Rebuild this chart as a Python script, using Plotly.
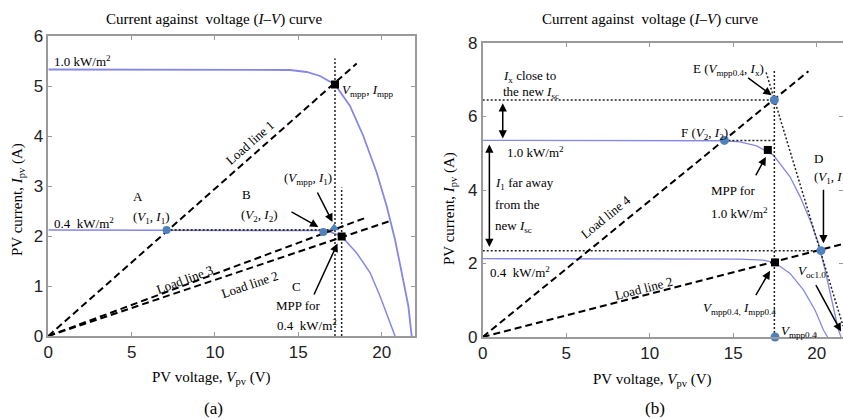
import plotly.graph_objects as go

# ---------------- (a) data ----------------
va_10 = [0, 14.5, 15.5, 16.3, 17.2, 18.1, 18.9, 19.7, 20.3, 20.8, 21.2, 21.6, 21.8]
ia_10 = [5.33, 5.32, 5.28, 5.2, 5.03, 4.6, 4.0, 3.27, 2.6, 1.93, 1.27, 0.6, 0.0]
va_04 = [0, 16.3, 17.0, 17.6, 18.5, 19.3, 19.9, 20.5, 20.8]
ia_04 = [2.12, 2.11, 2.07, 1.99, 1.66, 1.27, 0.8, 0.27, 0.0]
load1_a_v = [0, 18.5]
load1_a_i = [0, 5.45]
load3_a_v = [0, 19.0]
load3_a_i = [0, 2.36]
load2_a_v = [0, 20.5]
load2_a_i = [0, 2.3]
hdot_a_v = [7.1, 17.2]
hdot_a_i = [2.12, 2.12]
vdot1_a_v = [17.2, 17.2]
vdot1_a_i = [0, 5.55]
vdot2_a_v = [17.6, 17.6]
vdot2_a_i = [0, 2.97]
pts_a_v = [7.1, 16.5]          # A, B
pts_a_i = [2.12, 2.08]
tri_a_v = [17.15]              # (Vmpp, I1)
tri_a_i = [2.16]
mpp_a_v = [17.2, 17.6]
mpp_a_i = [5.03, 1.99]

# ---------------- (b) data ----------------
vb_10 = [0, 14.5, 15.4, 16.4, 17.4, 18.4, 19.0, 19.6, 20.1, 20.5, 20.9, 21.3, 21.45]
ib_10 = [5.35, 5.34, 5.31, 5.2, 4.95, 4.36, 3.82, 3.18, 2.55, 1.82, 1.0, 0.19, 0.0]
vb_04 = [0, 15.4, 16.8, 17.5, 18.4, 19.2, 19.9, 20.4, 20.65]
ib_04 = [2.13, 2.12, 2.09, 2.02, 1.73, 1.28, 0.73, 0.19, 0.0]
load4_b_v = [0, 19.5]
load4_b_i = [0, 7.23]
load2_b_v = [0, 21.57]
load2_b_i = [0, 2.53]
tangent_b_v = [16.97, 21.57]
tangent_b_i = [7.2, 0.3]
hdot_top_v = [0, 17.46]
hdot_top_i = [6.45, 6.45]
hdot_mid_v = [14.47, 17.46]
hdot_mid_i = [5.35, 5.35]
hdot_low_v = [0, 20.25]
hdot_low_i = [2.35, 2.35]
vdot_b_v = [17.46, 17.46]
vdot_b_i = [0, 7.27]
pts_b_v = [17.46, 14.47, 20.25, 17.5]   # E, F, D, Vmpp0.4
pts_b_i = [6.45, 5.35, 2.35, 0.0]
mpp_b_v = [17.07, 17.5]
mpp_b_i = [5.09, 2.03]

BLUE_CURVE = "rgb(135,135,228)"
BLUE_PT = "#4f81bd"
SERIF = "Liberation Serif"
SANS = "Liberation Sans"
DASH = "7px,4px"
DOT = "2px,2px"
FS = 13

fig = go.Figure()


def line(x, y, ax, color="black", width=2, dash=DASH):
    xa, ya = ("x", "y") if ax == "a" else ("x2", "y2")
    fig.add_trace(go.Scatter(x=x, y=y, mode="lines", xaxis=xa, yaxis=ya,
                             line=dict(color=color, width=width, dash=dash),
                             showlegend=False, hoverinfo="skip"))


def pts(x, y, ax, symbol, color, size):
    xa, ya = ("x", "y") if ax == "a" else ("x2", "y2")
    fig.add_trace(go.Scatter(x=x, y=y, mode="markers", xaxis=xa, yaxis=ya,
                             marker=dict(symbol=symbol, color=color, size=size),
                             cliponaxis=False, showlegend=False, hoverinfo="skip"))


# (a)
line(va_10, ia_10, "a", BLUE_CURVE, 1.8, "solid")
line(va_04, ia_04, "a", BLUE_CURVE, 1.5, "solid")
line(hdot_a_v, hdot_a_i, "a", "#333", 2.2, DOT)
line(vdot1_a_v, vdot1_a_i, "a", "#222", 1.5, DOT)
line(vdot2_a_v, vdot2_a_i, "a", "#222", 1.5, DOT)
line(load1_a_v, load1_a_i, "a")
line(load3_a_v, load3_a_i, "a")
line(load2_a_v, load2_a_i, "a")
pts(pts_a_v, pts_a_i, "a", "circle", BLUE_PT, 8)
pts(tri_a_v, tri_a_i, "a", "triangle-up", BLUE_PT, 9)
pts(mpp_a_v, mpp_a_i, "a", "square", "black", 8)

# (b)
line(vb_10, ib_10, "b", BLUE_CURVE, 1.3, "solid")
line(vb_04, ib_04, "b", BLUE_CURVE, 1.3, "solid")
line(hdot_top_v, hdot_top_i, "b", "#222", 1.5, DOT)
line(hdot_mid_v, hdot_mid_i, "b", "#222", 1.5, DOT)
line(hdot_low_v, hdot_low_i, "b", "#222", 1.5, DOT)
line(vdot_b_v, vdot_b_i, "b", "#222", 1.5, DOT)
line(tangent_b_v, tangent_b_i, "b", "#222", 1.5, DOT)
line(load4_b_v, load4_b_i, "b")
line(load2_b_v, load2_b_i, "b")
pts(pts_b_v, pts_b_i, "b", "circle", BLUE_PT, 9)
pts(mpp_b_v, mpp_b_i, "b", "square", "black", 8)

ann = []


def txt(t, x, y, ax, xanchor="center", angle=0, size=FS):
    xr, yr = ("x", "y") if ax == "a" else ("x2", "y2")
    ann.append(dict(text=t, x=x, y=y, xref=xr, yref=yr, showarrow=False,
                    xanchor=xanchor, yanchor="middle", textangle=angle,
                    font=dict(family=SERIF, size=size, color="black")))


def arrow(x0, y0, x1, y1, ax, both=False):
    xr, yr = ("x", "y") if ax == "a" else ("x2", "y2")
    ann.append(dict(text="", x=x1, y=y1, ax=x0, ay=y0, xref=xr, yref=yr,
                    axref=xr, ayref=yr, showarrow=True, arrowhead=2,
                    arrowsize=1.1, arrowwidth=1.5, arrowcolor="black",
                    arrowside="end+start" if both else "end",
                    standoff=0, startstandoff=0))


def ptxt(t, px, py, size=15, angle=0):
    ann.append(dict(text=t, x=px / 843, y=(419 - py) / 419, xref="paper",
                    yref="paper", showarrow=False, xanchor="center",
                    yanchor="middle", textangle=angle,
                    font=dict(family=SERIF, size=size, color="black")))


# (a) annotations
txt("1.0 kW/m<sup>2</sup>", 0.2, 5.5, "a", "left")
txt("<i>V</i><sub>mpp</sub>, <i>I</i><sub>mpp</sub>", 17.5, 4.92, "a", "left")
txt("Load line 1", 12.1, 3.88, "a", angle=-41.5)
txt("A", 5.4, 2.8, "a")
txt("(<i>V</i><sub>1</sub>, <i>I</i><sub>1</sub>)", 6.2, 2.38, "a")
txt("B", 11.9, 2.84, "a")
txt("(<i>V</i><sub>2</sub>, <i>I</i><sub>2</sub>)", 12.7, 2.42, "a")
arrow(14.5, 2.5, 16.2, 2.18, "a")
txt("(<i>V</i><sub>mpp</sub>, <i>I</i><sub>1</sub>)", 15.6, 3.15, "a")
arrow(16.1, 2.9, 17.05, 2.28, "a")
txt("0.4  kW/m<sup>2</sup>", 0.22, 2.27, "a", "left")
txt("Load line 3", 8.2, 1.14, "a", angle=-20.4)
txt("Load line 2", 12.1, 1.04, "a", angle=-18.6)
txt("C", 14.9, 1.0, "a")
txt("MPP for", 15.0, 0.62, "a")
txt("0.4  kW/m<sup>2</sup>", 15.5, 0.22, "a")
arrow(15.9, 0.8, 17.35, 1.85, "a")

# (b) annotations
txt("<i>I</i><sub>x</sub> close to", 1.1, 7.1, "b", "left")
txt("the new <i>I</i><sub>sc</sub>", 1.1, 6.66, "b", "left")
arrow(1.2, 6.4, 1.2, 5.4, "b", both=True)
txt("1.0 kW/m<sup>2</sup>", 1.33, 5.04, "b", "left")
arrow(0.4, 5.28, 0.4, 2.45, "b", both=True)
txt("<i>I</i><sub>1</sub> far away", 0.6, 4.19, "b", "left")
txt("from the", 0.6, 3.6, "b", "left")
txt("new <i>I</i><sub>sc</sub>", 0.6, 3.0, "b", "left")
txt("0.4  kW/m<sup>2</sup>", 0.32, 1.78, "b", "left")
txt("Load line 4", 7.4, 3.27, "b", angle=-39.2)
txt("Load line 2", 9.6, 1.33, "b", angle=-14.4)
txt("E (<i>V</i><sub>mpp0.4</sub>, <i>I</i><sub>x</sub>)", 14.7, 7.27, "b")
arrow(15.8, 7.08, 17.3, 6.58, "b")
txt("F (<i>V</i><sub>2</sub>, <i>I</i><sub>2</sub>)", 13.3, 5.55, "b")
txt("MPP for", 15.0, 4.0, "b")
txt("1.0 kW/m<sup>2</sup>", 15.4, 3.37, "b")
arrow(16.3, 4.36, 16.95, 4.9, "b")
txt("D", 20.1, 4.87, "b")
txt("(<i>V</i><sub>1</sub>, <i>I</i><sub>1</sub>)", 19.7, 4.35, "b", "left")
arrow(20.4, 4.05, 20.4, 2.55, "b")
txt("<i>V</i><sub>oc1.0</sub>", 19.7, 1.77, "b")
arrow(19.9, 1.45, 21.45, 0.15, "b")
txt("<i>V</i><sub>mpp0.4,</sub> <i>I</i><sub>mpp0.4</sub>", 15.4, 0.78, "b")
arrow(16.3, 1.1, 17.2, 1.8, "b")
txt("<i>V</i><sub>mpp0.4</sub>", 17.75, 0.14, "b", "left")

# titles, axis titles, panel labels
ptxt("Current against  voltage (<i>I</i>–<i>V</i>) curve", 214, 20, 15)
ptxt("Current against  voltage (<i>I</i>–<i>V</i>) curve", 650, 20, 15)
ptxt("PV current, <i>I</i><sub>pv</sub> (A)", 18, 200, 15, -90)
ptxt("PV current, <i>I</i><sub>pv</sub> (A)", 450, 208, 15, -90)
ptxt("PV voltage, <i>V</i><sub>pv</sub> (V)", 211, 378, 15)
ptxt("PV voltage, <i>V</i><sub>pv</sub> (V)", 652, 380, 15)
ptxt("(a)", 213, 408, 17)
ptxt("(b)", 655, 408, 17)

axis_common = dict(showline=True, linecolor="#9a9a9a", linewidth=1.5,
                   mirror="ticks", ticks="inside", ticklen=4,
                   tickcolor="#9a9a9a", showgrid=False, zeroline=False,
                   automargin=False,
                   tickfont=dict(family=SANS, size=17, color="#222"))

fig.update_layout(
    width=843, height=419,
    margin=dict(l=0, r=0, t=0, b=0, pad=0),
    paper_bgcolor="white", plot_bgcolor="white",
    showlegend=False,
    xaxis=dict(domain=[48.3 / 843, 415 / 843], range=[0, 22],
               tickvals=[0, 5, 10, 15, 20], anchor="y", **axis_common),
    yaxis=dict(domain=[(419 - 336) / 419, (419 - 36) / 419], range=[0, 6],
               tickvals=[0, 1, 2, 3, 4, 5, 6], anchor="x", **axis_common),
    xaxis2=dict(domain=[482.7 / 843, 1.0], range=[0, 21.57],
                tickvals=[0, 5, 10, 15, 20], anchor="y2", **axis_common),
    yaxis2=dict(domain=[(419 - 337) / 419, (419 - 43) / 419], range=[0, 8],
                tickvals=[0, 2, 4, 6, 8], anchor="x2", **axis_common),
    annotations=ann,
)

fig.write_html("out.html",
               config={"displayModeBar": False},
               post_script="document.body.style.margin='0px';"
                           "document.body.style.overflow='hidden';")
